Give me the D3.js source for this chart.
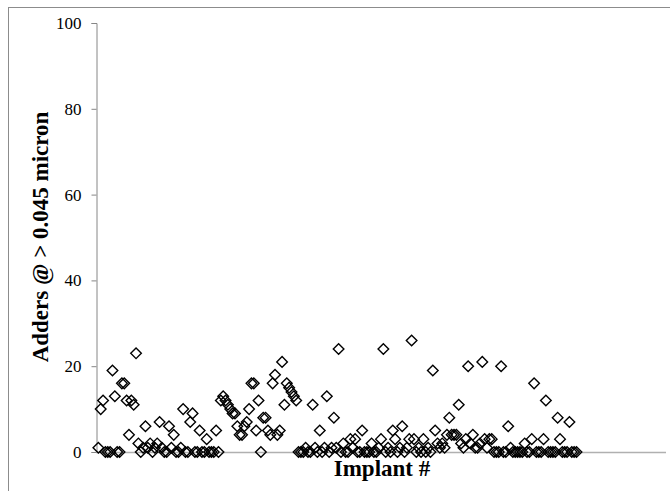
<!DOCTYPE html>
<html>
<head>
<meta charset="utf-8">
<script src="https://cdn.jsdelivr.net/npm/d3@7"></script>
<style>
  body { margin: 0; background: #fff; }
  text { font-family: "Liberation Serif", "Times New Roman", serif; }
</style>
</head>
<body>
<svg width="670" height="491"></svg>
<script>
// adders per implant, in implant order (1..204)
const adders = [
  1, 10, 12, 0, 0, 0, 19, 13, 0, 0,
  16, 16, 12, 4, 12, 11, 23, 2, 0, 1,
  6, 1, 2, 0, 1, 2, 7, 1, 0, 0,
  6, 1, 4, 0, 0, 1, 10, 0, 0, 7,
  9, 0, 0, 5, 0, 0, 3, 0, 0, 0,
  5, 0, 12, 13, 12, 11, 10, 9, 9, 6,
  4, 4, 6, 7, 10, 16, 16, 5, 12, 0,
  8, 8, 5, 4, 16, 18, 4, 5, 21, 11,
  16, 15, 14, 13, 12, 0, 0, 0, 1, 0,
  0, 11, 1, 0, 5, 0, 1, 13, 0, 1,
  8, 1, 24, 0, 2, 0, 0, 3, 1, 3,
  0, 0, 5, 0, 0, 0, 2, 0, 0, 1,
  3, 24, 0, 1, 0, 5, 3, 0, 1, 6,
  0, 1, 3, 26, 3, 0, 1, 0, 3, 0,
  1, 0, 19, 5, 2, 1, 2, 1, 4, 8,
  4, 4, 4, 11, 2, 1, 3, 20, 2, 4,
  1, 1, 2, 21, 3, 1, 3, 3, 0, 0,
  0, 20, 0, 0, 6, 1, 0, 0, 0, 0,
  0, 2, 0, 0, 3, 16, 0, 0, 0, 3,
  12, 0, 0, 0, 0, 8, 3, 0, 0, 0,
  7, 0, 0, 0
];
const implants = adders.map((d, i) => i + 1);
const yTicks = [0, 20, 40, 60, 80, 100];

const svg = d3.select('svg');

// outer chart frame
svg.append('rect')
    .attr('x', 8.5).attr('y', 7.5)
    .attr('width', 700).attr('height', 500)
    .attr('fill', 'none').attr('stroke', '#8c8c8c').attr('stroke-width', 1);

const x = d3.scaleLinear().domain([0, 242]).range([96, 666]);
const y = d3.scaleLinear().domain([0, 100]).range([452, 23]);

// y axis
const yAxis = svg.append('g')
    .attr('transform', 'translate(96.5,0)')
    .call(d3.axisLeft(y).tickValues(yTicks).tickSize(5).tickPadding(10));
yAxis.select('.domain').attr('stroke', '#868686');
yAxis.selectAll('.tick line').attr('stroke', '#868686');
yAxis.selectAll('.tick text')
    .style('font-family', '"Liberation Serif", serif')
    .style('font-size', '17px').attr('fill', '#000');

// x axis, no ticks
svg.append('line')
    .attr('x1', 96).attr('x2', 666)
    .attr('y1', y(0) + 0.5).attr('y2', y(0) + 0.5)
    .attr('stroke', '#b0b0b0').attr('stroke-width', 1.5);

// diamonds
const diamond = 'M0,-5.3L5.3,0L0,5.3L-5.3,0Z';
svg.append('g').selectAll('path')
    .data(adders)
    .join('path')
    .attr('d', diamond)
    .attr('transform', (d, i) => `translate(${x(implants[i])},${y(d)})`)
    .attr('fill', 'none')
    .attr('stroke', '#000')
    .attr('stroke-width', 1.4);

// axis titles
svg.append('text')
    .attr('x', 382).attr('y', 476)
    .attr('text-anchor', 'middle')
    .style('font-size', '23px').style('font-weight', 'bold')
    .text('Implant #');

svg.append('text')
    .attr('transform', 'translate(48,237) rotate(-90)')
    .attr('text-anchor', 'middle')
    .style('font-size', '23px').style('font-weight', 'bold')
    .text('Adders @ > 0.045 micron');
</script>
</body>
</html>
